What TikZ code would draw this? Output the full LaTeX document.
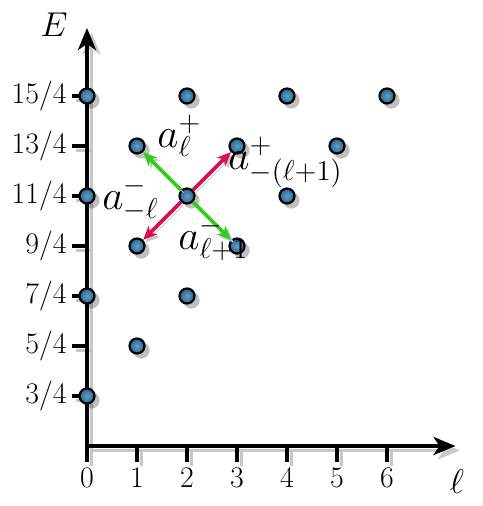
\documentclass[tikz,border=0pt]{standalone}
\usetikzlibrary{arrows,arrows.meta,shadows}
\definecolor{dotblue}{RGB}{40,115,165}
\definecolor{raisegreen}{RGB}{50,205,30}
\definecolor{lowerred}{RGB}{215,15,85}

\begin{document}
\begin{tikzpicture}[x=25bp,y=50bp,
		level/.style={circle,draw=black,line width=1.1bp,inner sep=0pt,minimum size=7.5bp,inner color=dotblue!70!white,outer color=dotblue!90!black,
			drop shadow={shadow xshift=2bp,shadow yshift=-2bp,shadow scale=1.1,opacity=0.25,fill=black}},
		axis/.style={line width=1.8bp,-{Stealth[length=11bp,width=9bp,inset=3bp]}},
		axtick/.style={line width=1.6bp},
		ladder/.style={line width=1.8bp,-{Stealth[length=7bp,width=6bp,inset=2bp]},
			preaction={draw=black!22,transform canvas={shift={(1.3bp,-1.3bp)}}}},
		ticklabel/.style={font=\fontsize{15}{18}\selectfont,inner sep=2.5bp},
		axlabel/.style={font=\fontsize{19}{22}\selectfont},
		oplabel/.style={font=\fontsize{19.5}{23}\selectfont,anchor=base west,inner sep=0pt}]
	\useasboundingbox (-1.74,-0.35) rectangle (7.92,4.71);
	\foreach \s/\c in {2.2/black!22,0/black}{
		\begin{scope}[shift={(\s bp,-\s bp)},\c]
			\draw[axis] (0,0.25) -- (7.37,0.25);
			\draw[axis] (0,0.25) -- (0,4.43);
			\foreach \l in {0,...,6}
				\draw[axtick] (\l,0.25) -- (\l,0.09);
			\foreach \n in {3,5,...,15}
				\draw[axtick] (0,\n/4) -- (-0.3,\n/4);
		\end{scope}
	}
	\foreach \l in {0,...,6}
		\node[ticklabel,anchor=north] (lt\l) at (\l,0.09) {\l};
	\foreach \n in {3,5,...,15}
		\node[ticklabel,anchor=east] (et\n) at (-0.3,\n/4) {\n/4};
	\node[axlabel] (elabel) at (-0.66,4.46) {$E$};
	\node[axlabel] (llabel) at (7.4,-0.11) {$\ell$};
	\foreach \l/\n in {0/3,0/7,0/11,0/15,1/5,1/9,1/13,2/7,2/11,2/15,3/9,3/13,4/11,4/15,5/13,6/15}
		\node[level] (p\l-\n) at (\l,\n/4) {};
	\draw[ladder,raisegreen] (p2-11) -- (p1-13);
	\draw[ladder,raisegreen] (p2-11) -- (p3-9);
	\draw[ladder,lowerred] (p2-11) -- (p3-13);
	\draw[ladder,lowerred] (p2-11) -- (p1-9);
	\node[oplabel] (aup) at (1.40,3.23) {$a_\ell^+$};
	\node[oplabel] (aupneg) at (2.82,3.01) {$a_{-(\ell+1)}^+$};
	\node[oplabel] (adownneg) at (0.30,2.61) {$a_{-\ell}^-$};
	\node[oplabel] (adown) at (1.82,2.21) {$a_{\ell+1}^-$};
\end{tikzpicture}
\end{document}
